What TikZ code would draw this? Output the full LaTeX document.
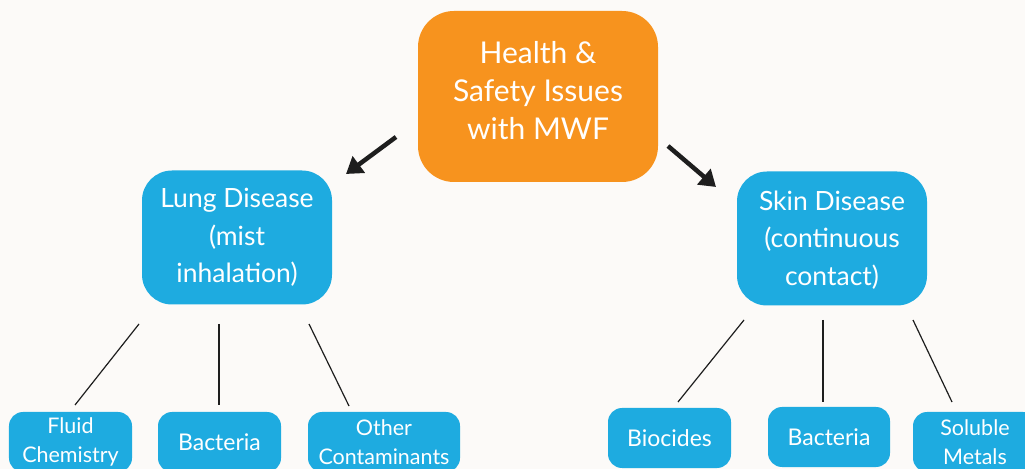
\documentclass[tikz,border=0pt]{standalone}
\usepackage{fontspec}
\setmainfont{Lato}
\usetikzlibrary{arrows.meta}
\definecolor{paper}{HTML}{FCFAF8}
\definecolor{mwforange}{HTML}{F7931E}
\definecolor{mwfblue}{HTML}{1EABE0}
\definecolor{ink}{HTML}{1E1E1E}
\begin{document}
\begin{tikzpicture}[x=1bp,y=-1bp,
  box/.style={fill=#1, text=white, align=center, inner sep=0pt},
  boxtext/.style={text=white, align=center, inner sep=0pt},
  topbox/.style={box=mwforange, minimum width=240bp, minimum height=171bp,
    rounded corners=36bp},
  midbox/.style={box=mwfblue, minimum width=190bp, minimum height=134bp,
    rounded corners=30bp, font=\fontsize{26.5bp}{37.5bp}\selectfont},
  leafbox/.style={box=mwfblue, minimum height=60bp,
    rounded corners=14bp},
  leafbig/.style={font=\fontsize{23bp}{29bp}\selectfont},
  leafsmall/.style={font=\fontsize{21.5bp}{29.5bp}\selectfont},
  arrowline/.style={draw=ink, line width=4.5bp,
    -{Triangle[length=16bp,width=20bp]}},
  link/.style={draw=ink, line width=1.2bp}]
\useasboundingbox (0,0) rectangle (1025,469);
\clip (0,0) rectangle (1025,469);
\fill[paper] (0,0) rectangle (1025,469);

% root and the two disease groups
\node[topbox] (root) at (538,96.5) {};
\node[boxtext, font=\fontsize{30bp}{38bp}\selectfont] (rootText) at (538,90.5)
  {Health \&\\Safety Issues\\with MWF};
\node[midbox] (lung) at (237,237.5) {Lung Disease\\(mist\\inhalation)};
\node[midbox] (skin) at (832,238.5) {};
\node[boxtext, font=\fontsize{26.5bp}{37.5bp}\selectfont] (skinText) at (832,240)
  {Skin Disease\\(continuous\\contact)};

% leaves under lung disease
\node[leafbox, leafsmall, minimum width=123bp] (fluid) at (70.5,442) {Fluid\\Chemistry};
\node[leafbox, leafbig, minimum width=123bp] (bactL) at (219.5,442) {Bacteria};
\node[leafbox, leafsmall, minimum width=152bp] (other) at (384,442) {Other\\Contaminants};

% leaves under skin disease
\node[leafbox, leafbig, minimum width=123bp] (bioc) at (669.5,438) {Biocides};
\node[leafbox, leafbig, minimum width=122bp] (bactR) at (829,437) {Bacteria};
\node[leafbox, leafsmall, minimum width=124bp] (metal) at (975,442) {Soluble\\Metals};

% arrow ends
\coordinate (rootL) at (396,137);
\coordinate (lungT) at (346,174);
\coordinate (rootR) at (668,146);
\coordinate (skinT) at (716,187);
\draw[arrowline] (rootL) -- (lungT);
\draw[arrowline] (rootR) -- (skinT);

% branch ends under lung disease
\coordinate (lungA) at (139,324);
\coordinate (lungB) at (219,324);
\coordinate (lungC) at (309,324);
\coordinate (fluidT) at (75,405);
\coordinate (bactLT) at (219,405);
\coordinate (otherT) at (349,406);
\draw[link] (lungA) -- (fluidT);
\draw[link] (lungB) -- (bactLT);
\draw[link] (lungC) -- (otherT);

% branch ends under skin disease
\coordinate (skinA) at (744,320);
\coordinate (skinB) at (823,320);
\coordinate (skinC) at (913,320);
\coordinate (biocT) at (678,402);
\coordinate (bactRT) at (823,402);
\coordinate (metalT) at (952,402);
\draw[link] (skinA) -- (biocT);
\draw[link] (skinB) -- (bactRT);
\draw[link] (skinC) -- (metalT);
\end{tikzpicture}
\end{document}
